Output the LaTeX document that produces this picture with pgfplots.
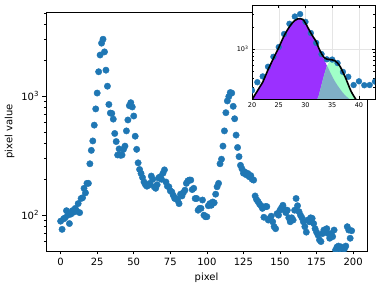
\documentclass[border=0pt]{standalone}
\usepackage{fontspec}
\setmainfont{DejaVu Sans}
\usepackage{pgfplots}
\usepackage{pgfplotstable}
\pgfplotsset{compat=1.18}
\definecolor{mplblue}{HTML}{1F77B4}
\definecolor{purp}{HTML}{9B30FF}
\definecolor{aqua}{HTML}{A0FFC8}
\definecolor{overlap}{HTML}{80AFC6}
\pgfplotstableread{
x y
0 89
1 76
2 93
3 95
4 109
5 100
6 85
7 102
8 109
9 106
10 114
11 108
12 125
13 105
14 138
15 140
16 168
17 154
18 185
19 185
20 270
21 350
22 420
23 570
24 780
25 1060
26 1600
27 2210
28 2780
29 3000
30 2350
31 1650
32 1210
33 850
34 720
35 715
36 640
37 485
38 415
39 320
40 360
41 318
42 320
43 357
44 380
45 510
46 630
47 830
48 880
49 810
50 680
51 460
52 357
53 275
54 242
55 224
56 207
57 190
58 180
59 175
60 178
61 185
62 213
63 200
64 173
65 168
66 180
67 205
68 210
69 200
70 225
71 240
72 190
73 175
74 173
75 160
76 157
77 147
78 138
79 138
80 134
81 125
82 150
83 145
84 155
85 162
86 185
87 194
88 197
89 197
90 164
91 168
92 138
93 138
94 110
95 114
96 114
97 134
98 100
99 97
100 97
101 120
102 125
103 121
104 129
105 127
106 150
107 173
108 185
109 270
110 295
111 380
112 510
113 725
114 910
115 990
116 1070
117 1060
118 820
119 645
120 470
121 370
122 310
123 262
124 245
125 225
126 230
127 218
128 224
129 210
130 215
131 200
132 197
133 145
134 135
135 130
136 124
137 120
138 114
139 96
140 118
141 118
142 91
143 94
144 98
145 88
146 80
147 77
148 103
149 100
150 110
151 115
152 121
153 112
154 105
155 110
156 95
157 88
158 95
159 91
160 110
161 138
162 120
163 107
164 100
165 95
166 88
167 80
168 72
169 91
170 88
171 95
172 94
173 85
174 77
175 72
176 68
177 62
178 60
179 70
180 75
181 72
182 77
183 70
184 64
185 70
186 66
187 75
188 51
189 54
190 55
191 52
192 54
193 53
194 52
195 55
196 80
197 75
198 64
199 74
}\maindata
\pgfplotstableread{
x y
20.0 200
20.5 232
21.0 265
21.5 305
22.0 350
22.5 425
23.0 520
23.5 620
24.0 740
24.5 880
25.0 1040
25.5 1260
26.0 1510
26.5 1760
27.0 2010
27.5 2250
28.0 2450
28.5 2570
29.0 2600
29.5 2540
30.0 2260
30.5 1930
31.0 1650
31.5 1440
32.0 1250
32.5 1010
33.0 840
33.5 710
34.0 590
34.5 500
35.0 420
35.5 360
36.0 315
36.5 280
37.0 250
37.5 228
38.0 212
38.5 198
39.0 185
43.0 150
}\purpdata
\pgfplotstableread{
x y
31.5 150
32.0 185
32.5 230
33.0 320
33.5 440
34.0 580
34.5 680
35.0 700
35.5 685
36.0 635
36.5 565
37.0 475
37.5 395
38.0 320
38.5 262
39.0 225
39.5 198
40.0 175
41.0 140
43.0 110
}\greendata
\pgfplotstableread{
x y
31.5 150
32.0 185
32.5 230
33.0 320
33.5 440
34.0 580
34.15 570
34.5 500
35.0 420
35.5 360
36.0 315
36.5 280
37.0 250
37.5 228
38.0 212
38.5 198
39.0 185
43.0 110
}\overlapdata
\pgfplotstableread{
x y
20.0 200
20.5 232
21.0 265
21.5 305
22.0 350
22.5 425
23.0 520
23.5 620
24.0 740
24.5 880
25.0 1040
25.5 1260
26.0 1510
26.5 1760
27.0 2010
27.5 2250
28.0 2450
28.5 2570
29.0 2600
29.5 2540
30.0 2260
30.5 1930
31.0 1650
31.5 1440
32.0 1260
32.5 1020
33.0 860
33.5 760
34.0 725
34.5 715
35.0 707
35.5 690
36.0 640
36.5 570
37.0 480
37.5 400
38.0 325
38.5 265
39.0 228
39.5 200
40.0 180
41.0 150
43.0 120
}\sumdata
\begin{document}
\begin{tikzpicture}
\begin{axis}[
 at={(0,0)}, anchor=south west,
 scale only axis, width=321pt, height=239pt,
 xmin=-10, xmax=209.5, ymode=log, ymin=50, ymax=5080,
 xtick={0,25,...,200},
 ytick={100,1000}, yticklabels={10\textsuperscript{2},10\textsuperscript{3}},
 minor ytick={60,70,80,90,200,300,400,500,600,700,800,900,2000,3000,4000,5000},
 tick align=outside, xtick pos=bottom, ytick pos=left,
 major tick length=3.5pt, minor tick length=2pt,
 tick style={black, line width=0.6pt},
 axis line style={line width=0.8pt},
 xlabel={pixel}, ylabel={pixel value},
 every tick label/.append style={font=\fontsize{10}{12}\selectfont},
 label style={font=\fontsize{10}{12}\selectfont},
 /pgf/number format/assume math mode=true,
 clip marker paths=true,
]
\addplot[only marks, mark=*, mark size=3.2pt, color=mplblue, mark options={draw=mplblue, fill=mplblue}] table[x=x,y=y]{\maindata};
\end{axis}
\begin{axis}[
 at={(206pt,152pt)}, anchor=south west,
 scale only axis, width=123pt, height=94pt,
 xmin=20, xmax=43, ymode=log, ymin=206, ymax=4000,
 xtick={20,25,...,40},
 ytick={1000}, yticklabels={10\textsuperscript{3}},
 minor ytick={300,400,500,600,700,800,900,2000,3000,4000},
 tick align=inside,
 major tick length=3pt, minor tick length=1.8pt,
 tick style={black, line width=0.5pt},
 axis line style={line width=0.8pt},
 grid=major, major grid style={black!10, line width=0.4pt},
 axis background/.style={fill=white},
 every tick label/.append style={font=\fontsize{6.5}{7.5}\selectfont},
 /pgf/number format/assume math mode=true,
 clip marker paths=true,
]
\addplot[draw=none, fill=purp] table[x=x,y=y]{\purpdata} \closedcycle;
\addplot[draw=none, fill=aqua] table[x=x,y=y]{\greendata} \closedcycle;
\addplot[draw=none, fill=overlap] table[x=x,y=y]{\overlapdata} \closedcycle;
\addplot[only marks, mark=*, mark size=2.9pt, color=mplblue, mark options={draw=mplblue, fill=mplblue}, restrict x to domain=18:45] table[x=x,y=y]{\maindata};
\addplot[black, line width=1.6pt, smooth] table[x=x,y=y]{\sumdata};
\end{axis}
\pgfresetboundingbox
\path (-46pt,-38pt) rectangle (336pt,251pt);
\end{tikzpicture}
\end{document}
